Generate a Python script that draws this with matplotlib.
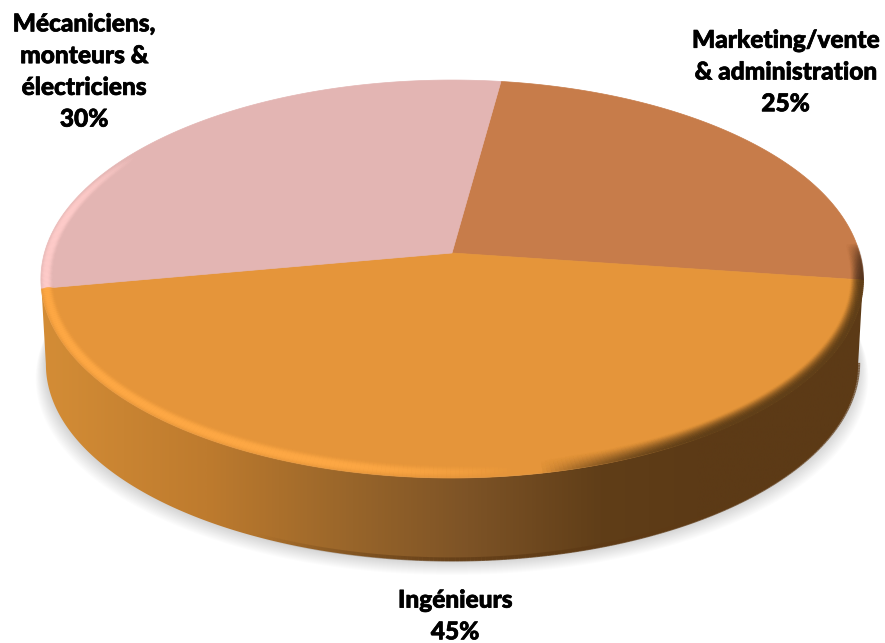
#!/usr/bin/env python3
"""
Fake 3D pie of staff categories, drawn on a pixel-sized axes
"""

import numpy as np
import matplotlib
matplotlib.use("Agg")
import matplotlib.pyplot as plt
import matplotlib.patheffects as pe
from matplotlib.collections import LineCollection
from matplotlib.colors import LinearSegmentedColormap
from matplotlib.patches import Polygon

# chart data, clockwise from the first slice
categories = ["Marketing/vente\n& administration", "Ingénieurs",
              "Mécaniciens,\nmonteurs &\nélectriciens"]
shares = [25, 45, 30]
slice_colors = ["#C77C4A", "#E5953A", "#E3B5B3"]

# tilt of the disc (image pixels)
START_DEG = 7.8
CX, CY, RX = 452.0, 253.0, 407.5
PERSP, SQUASH = 0.1307, -162.5


def project(theta, r=1.0):
    """Clockwise angle from top on the unit disc -> image pixels"""
    u = r * np.sin(theta)
    v = r * np.cos(theta)
    w = 1 + PERSP * v
    return CX + RX * u / w, (SQUASH * v + CY) / w


def project_low(theta, r=1.0):
    """Same disc, lower face of the cake"""
    x, y = project(theta, r)
    return 451 + (x - 451) * 0.988, 561 + (y - 478) * 0.988


def bevel_rings(ax, theta, color, n=22):
    """Soft rounded edge: lit on the left, dark on the right"""
    base = np.array(matplotlib.colors.to_rgb(color))
    for i in range(n):
        f = i / (n - 1)              # 0 at the edge, 1 inside
        x, _ = project(theta, 1 - 0.03 * f)
        _, y = project(theta, 1 - 0.055 * f)
        pts = np.column_stack([x, y])
        segs = np.stack([pts[:-1], pts[1:]], axis=1)
        xm = (x[:-1] + x[1:]) / 2
        v = np.cos((theta[:-1] + theta[1:]) / 2)
        fade_l = np.clip((0.55 - v) / 0.35, 0, 1)
        fade_r = np.clip((0.05 - v) / 0.2, 0, 1)
        light = np.clip((520 - xm) / 200, 0, 1)
        dark = np.clip((xm - 540) / 180, 0, 1)
        glow = np.exp(-((f - 0.42) / 0.3) ** 2)
        lit_rgb = np.minimum(base * 1.1 + 0.02, 1)
        dark_rgb = base * 0.42
        edge = (1 - f) ** 1.4
        rgba = np.zeros((len(xm), 4))
        a_l = 0.75 * light * glow * fade_l
        a_d = dark * edge * fade_r
        for c in range(3):
            rgba[:, c] = (lit_rgb[c] * a_l + dark_rgb[c] * a_d) / np.maximum(a_l + a_d, 1e-6)
        rgba[:, 3] = np.clip(a_l + a_d, 0, 1)
        ax.add_collection(LineCollection(segs, colors=rgba, linewidths=1.4, capstyle="butt", zorder=4))


fig = plt.figure(figsize=(8.85, 6.43), dpi=100)
ax = fig.add_axes([0, 0, 1, 1])
ax.set_xlim(0, 885)
ax.set_ylim(643, 0)
ax.axis("off")

full = np.linspace(0, 2 * np.pi, 721)

# soft shadow under the cake
for k in range(14, 0, -1):
    x, y = project_low(full)
    ax.fill(451 + (x - 451) * (1 + k * 0.0018), y + k * 1.0, color="black", alpha=0.013, lw=0, zorder=1)

# side wall with horizontal shading, between the widest points of both faces
wall_cmap = LinearSegmentedColormap.from_list("wall", [
    (0.00, "#D48D36"), (0.20, "#BE7B2E"), (0.38, "#98652A"),
    (0.52, "#7D5326"), (0.68, "#603E18"), (0.80, "#5C3A16"), (1.00, "#5C3A16")])
front = np.linspace(np.radians(97.5), np.radians(262.5), 361)
xt, yt = project(front)
xb, yb = project_low(front)
outline = np.vstack([np.column_stack([xb, yb]), np.column_stack([xt, yt])[::-1]])
clip = Polygon(outline, closed=True, transform=ax.transData, fc="none", ec="none")
ax.add_patch(clip)
grad = ax.imshow(np.linspace(0, 1, 512)[None, :], cmap=wall_cmap, extent=(40, 864, 600, 250),
                 aspect="auto", interpolation="bilinear", zorder=2)
grad.set_clip_path(clip)
ax.set_xlim(0, 885)
ax.set_ylim(643, 0)

# darker lip along the bottom of the wall
pts = np.column_stack([xb, yb - 1.5])
segs = np.stack([pts[:-1], pts[1:]], axis=1)
lip = np.zeros((len(segs), 4))
lip[:, :3] = matplotlib.colors.to_rgb("#5E3A15")
lip[:, 3] = 0.75 * np.clip((xb[:-1] - 260) / 200, 0, 1)
ax.add_collection(LineCollection(segs, colors=lip, linewidths=3, zorder=3))

# top face, slices taken from the shares
edges = np.radians(START_DEG + 360 * np.cumsum([0] + shares) / sum(shares))
for k in range(len(shares)):
    theta = np.linspace(edges[k], edges[k + 1], 300)
    x, y = project(theta)
    ax.fill(np.r_[CX, x], np.r_[CY, y], color=slice_colors[k], lw=0.5, zorder=3)
for k in [2, 0, 1]:
    theta = np.linspace(edges[k], edges[k + 1], 300)
    bevel_rings(ax, theta, slice_colors[k])

# labels
font = dict(family="Lato", fontweight=900, fontsize=17.6, color="black", ha="center", va="center",
            linespacing=1.46, zorder=6, path_effects=[pe.withStroke(linewidth=0.5, foreground="black")])
ax.text(785.5, 72, f"{categories[0]}\n{shares[0]}%", **font)
ax.text(455, 616, f"{categories[1]}\n{shares[1]}%", **font)
ax.text(84, 71.5, f"{categories[2]}\n{shares[2]}%", **font)

fig.savefig("out.png", dpi=100)
